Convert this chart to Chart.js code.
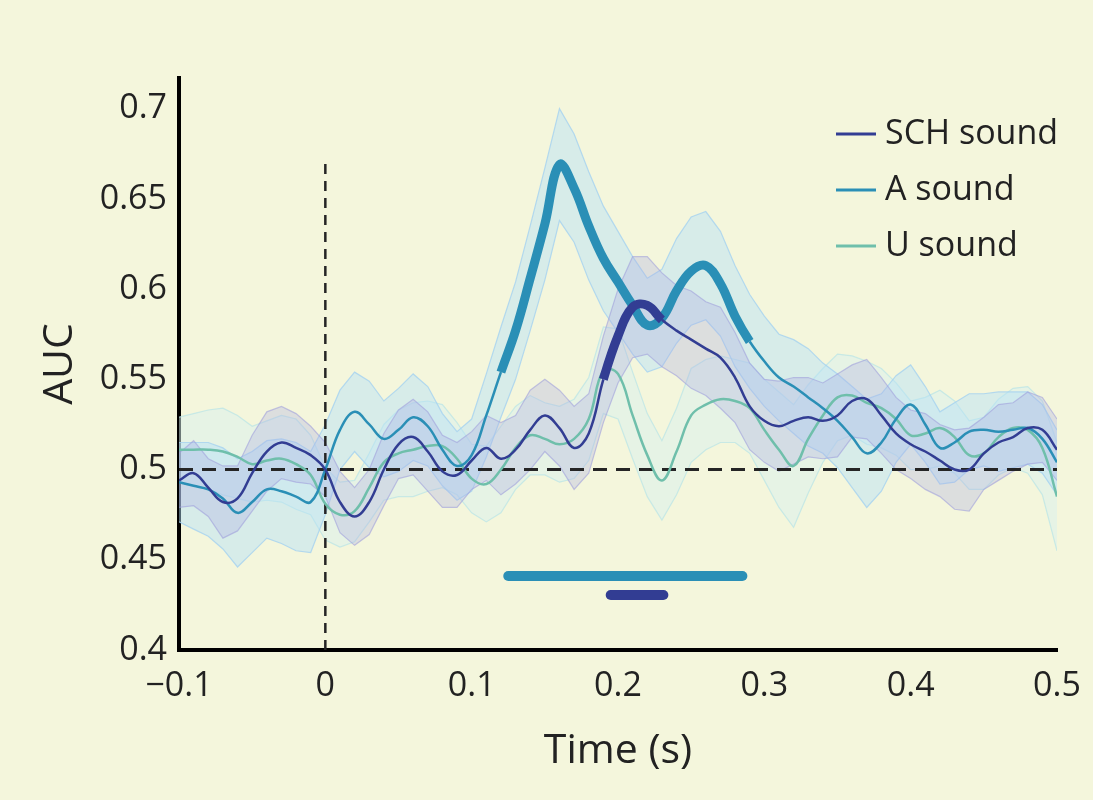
<!DOCTYPE html>
<html>
<head>
<meta charset="utf-8">
<script src="https://cdn.jsdelivr.net/npm/chart.js@4.4.1/dist/chart.umd.min.js"></script>
<style>
html, body { margin: 0; padding: 0; background: #f4f6dc; }
</style>
</head>
<body>
<canvas id="auc" width="1093" height="800"></canvas>
<script>
// time points (s)
var time = [-0.10,-0.09,-0.08,-0.07,-0.06,-0.05,-0.04,-0.03,-0.02,-0.01,
  0.00,0.01,0.02,0.03,0.04,0.05,0.06,0.07,0.08,0.09,
  0.10,0.11,0.12,0.13,0.14,0.15,0.16,0.17,0.18,0.19,
  0.20,0.21,0.22,0.23,0.24,0.25,0.26,0.27,0.28,0.29,
  0.30,0.31,0.32,0.33,0.34,0.35,0.36,0.37,0.38,0.39,
  0.40,0.41,0.42,0.43,0.44,0.45,0.46,0.47,0.48,0.49,0.50];

// mean AUC per condition
var schMean = [0.494,0.498,0.490,0.482,0.484,0.498,0.510,0.515,0.512,0.508,
  0.500,0.482,0.474,0.482,0.500,0.514,0.518,0.510,0.499,0.497,
  0.505,0.512,0.506,0.511,0.522,0.530,0.523,0.512,0.520,0.550,
  0.574,0.590,0.591,0.583,0.577,0.572,0.567,0.562,0.551,0.535,
  0.527,0.524,0.527,0.529,0.527,0.530,0.538,0.539,0.530,0.520,
  0.514,0.510,0.505,0.500,0.500,0.509,0.515,0.518,0.523,0.522,0.511];
var aMean = [0.493,0.491,0.489,0.484,0.476,0.482,0.489,0.488,0.485,0.482,
  0.500,0.522,0.532,0.525,0.517,0.522,0.529,0.524,0.511,0.502,
  0.508,0.530,0.554,0.577,0.606,0.636,0.669,0.656,0.635,0.617,
  0.604,0.591,0.580,0.584,0.599,0.610,0.613,0.603,0.585,0.571,
  0.560,0.551,0.546,0.540,0.534,0.527,0.518,0.509,0.515,0.528,
  0.536,0.525,0.512,0.515,0.521,0.522,0.521,0.522,0.523,0.517,0.504];
var uMean = [0.511,0.511,0.511,0.510,0.507,0.503,0.505,0.506,0.503,0.497,
  0.481,0.475,0.477,0.490,0.504,0.509,0.511,0.513,0.513,0.506,
  0.495,0.492,0.500,0.512,0.519,0.517,0.514,0.517,0.528,0.555,
  0.553,0.530,0.508,0.494,0.510,0.530,0.536,0.539,0.538,0.534,
  0.522,0.511,0.502,0.517,0.530,0.540,0.541,0.537,0.534,0.528,
  0.519,0.520,0.523,0.518,0.508,0.509,0.518,0.523,0.522,0.512,0.485];

// half-width of the shaded error bands
var schErr = [0.015,0.018,0.016,0.020,0.018,0.021,0.022,0.020,0.019,0.016,
  0.015,0.017,0.016,0.018,0.020,0.019,0.021,0.022,0.020,0.018,
  0.016,0.018,0.020,0.019,0.022,0.020,0.021,0.023,0.022,0.024,
  0.026,0.028,0.027,0.026,0.025,0.027,0.026,0.028,0.025,0.024,
  0.023,0.025,0.024,0.022,0.021,0.023,0.020,0.022,0.021,0.020,
  0.019,0.021,0.020,0.022,0.023,0.020,0.021,0.019,0.020,0.018,0.017];
var aErr = [0.022,0.024,0.026,0.028,0.030,0.028,0.027,0.029,0.030,0.028,
  0.025,0.022,0.022,0.024,0.021,0.023,0.024,0.022,0.020,0.019,
  0.020,0.023,0.025,0.027,0.029,0.031,0.031,0.030,0.030,0.029,
  0.028,0.027,0.026,0.027,0.029,0.030,0.030,0.029,0.028,0.026,
  0.025,0.024,0.026,0.027,0.025,0.026,0.028,0.030,0.027,0.024,
  0.022,0.021,0.020,0.022,0.021,0.020,0.022,0.021,0.020,0.019,0.018];
var uErr = [0.018,0.020,0.022,0.024,0.023,0.021,0.022,0.024,0.025,0.022,
  0.020,0.018,0.017,0.019,0.021,0.024,0.026,0.025,0.023,0.020,
  0.019,0.021,0.024,0.023,0.022,0.020,0.021,0.022,0.023,0.024,
  0.025,0.024,0.023,0.022,0.024,0.026,0.025,0.024,0.023,0.025,
  0.028,0.032,0.034,0.030,0.026,0.024,0.022,0.023,0.022,0.020,
  0.019,0.020,0.021,0.020,0.019,0.020,0.021,0.022,0.024,0.026,0.030];

// significant windows (s) and the height of their marker bars
var aSig = [0.125, 0.285];
var schSig = [0.195, 0.231];
var aBarY = 0.441;
var schBarY = 0.4305;

var chanceLevel = 0.5;
var onsetTop = 0.673;

var xTicks = [-0.1, 0, 0.1, 0.2, 0.3, 0.4, 0.5];
var yTicks = [0.4, 0.45, 0.5, 0.55, 0.6, 0.65, 0.7];

var colSCH = '#323d93';
var colA = '#2a8fb6';
var colU = '#6fbfab';

function pts(ys) {
  return time.map(function(t, i) { return {x: t, y: ys[i]}; });
}
function edge(ys, err, sign) {
  return time.map(function(t, i) { return {x: t, y: ys[i] + sign * err[i]}; });
}
function sigWidth(span, thin, thick) {
  return function(ctx) {
    var a = ctx.p0.parsed.x, b = ctx.p1.parsed.x;
    return (a >= span[0] - 0.006 && b <= span[1] + 0.006) ? thick : thin;
  };
}
function meanLine(label, ys, color, span) {
  var ds = {
    label: label, data: pts(ys), borderColor: color, borderWidth: 2.5,
    pointRadius: 0, tension: 0.4, fill: false, order: 0
  };
  if (span) ds.segment = { borderWidth: sigWidth(span, 2.5, 9) };
  return ds;
}
function bandEdge(ys, err, sign, line, fillCol, order) {
  return {
    label: '', data: edge(ys, err, sign), borderColor: line, borderWidth: 1.2,
    backgroundColor: fillCol, pointRadius: 0, tension: 0,
    fill: sign < 0 ? '-1' : false, order: order
  };
}

var bgPlugin = {
  id: 'bg',
  beforeDraw: function(chart) {
    var c = chart.ctx;
    c.save();
    c.fillStyle = '#f4f6dc';
    c.fillRect(0, 0, chart.width, chart.height);
    c.restore();
  }
};

var legendPlugin = {
  id: 'cornerLegend',
  afterDraw: function(chart) {
    var c = chart.ctx, area = chart.chartArea;
    var x0 = area.right - 221;
    c.save();
    c.font = '34px "Open Sans"';
    c.textBaseline = 'middle';
    for (var i = 0; i < 3; i++) {
      var ds = chart.data.datasets[i];
      var y = area.top + 56 + i * 56;
      c.strokeStyle = ds.borderColor;
      c.lineWidth = 3;
      c.beginPath(); c.moveTo(x0, y); c.lineTo(x0 + 40, y); c.stroke();
      c.fillStyle = '#222';
      c.fillText(ds.label, x0 + 49, y);
    }
    c.restore();
  }
};

new Chart(document.getElementById('auc'), {
  type: 'line',
  data: {
    datasets: [
      meanLine('SCH sound', schMean, colSCH, schSig),
      meanLine('A sound', aMean, colA, aSig),
      meanLine('U sound', uMean, colU, null),
      { label: '', data: [{x: aSig[0], y: aBarY}, {x: aSig[1], y: aBarY}],
        borderColor: colA, borderWidth: 10, borderCapStyle: 'round', pointRadius: 0, order: 0 },
      { label: '', data: [{x: schSig[0], y: schBarY}, {x: schSig[1], y: schBarY}],
        borderColor: colSCH, borderWidth: 10, borderCapStyle: 'round', pointRadius: 0, order: 0 },
      { label: '', data: [{x: xTicks[0], y: chanceLevel}, {x: xTicks[xTicks.length - 1], y: chanceLevel}],
        borderColor: '#252525', borderWidth: 3, borderDash: [14, 9], pointRadius: 0, order: 1 },
      { label: '', data: [{x: 0, y: yTicks[0]}, {x: 0, y: onsetTop}],
        borderColor: '#252525', borderWidth: 2.5, borderDash: [10, 7], pointRadius: 0, order: 1 },
      bandEdge(uMean, uErr, 1, 'rgba(190,230,230,0.8)', 'rgba(215,240,238,0.5)', 5),
      bandEdge(uMean, uErr, -1, 'rgba(190,230,230,0.8)', 'rgba(215,240,238,0.5)', 5),
      bandEdge(aMean, aErr, 1, 'rgba(165,210,240,0.8)', 'rgba(180,224,248,0.45)', 4),
      bandEdge(aMean, aErr, -1, 'rgba(165,210,240,0.8)', 'rgba(180,224,248,0.45)', 4),
      bandEdge(schMean, schErr, 1, 'rgba(160,160,220,0.6)', 'rgba(170,170,228,0.32)', 3),
      bandEdge(schMean, schErr, -1, 'rgba(160,160,220,0.6)', 'rgba(170,170,228,0.32)', 3)
    ]
  },
  options: {
    responsive: false,
    animation: false,
    layout: { padding: { left: 0, right: 36, top: 78, bottom: 0 } },
    plugins: { legend: { display: false }, tooltip: { enabled: false } },
    scales: {
      x: {
        type: 'linear', min: -0.1, max: 0.5,
        grid: { display: false, drawTicks: false },
        border: { display: true, color: '#000', width: 4 },
        afterBuildTicks: function(s) { s.ticks = xTicks.map(function(v) { return {value: v}; }); },
        afterFit: function(s) { s.height = 150; s.paddingRight = 36; },
        ticks: {
          padding: 16, color: '#222', maxRotation: 0,
          font: { family: 'Open Sans', size: 34 },
          callback: function(v) { return v < 0 ? '\u2212' + Math.abs(v) : String(v); }
        },
        title: { display: true, text: 'Time (s)', color: '#222',
          font: { family: 'Open Sans', size: 41 }, padding: { top: 0, bottom: 24 } }
      },
      y: {
        type: 'linear', min: 0.4, max: 0.717,
        grid: { display: false, drawTicks: false },
        border: { display: true, color: '#000', width: 4 },
        afterBuildTicks: function(s) { s.ticks = yTicks.map(function(v) { return {value: v}; }); },
        afterFit: function(s) { s.width = 179; },
        ticks: {
          padding: 12, color: '#222',
          font: { family: 'Open Sans', size: 34 },
          callback: function(v) { return String(v); }
        },
        title: { display: true, text: 'AUC', color: '#222',
          font: { family: 'Open Sans', size: 41 }, padding: { top: 36, bottom: 0 } }
      }
    }
  },
  plugins: [bgPlugin, legendPlugin]
});
</script>
</body>
</html>
